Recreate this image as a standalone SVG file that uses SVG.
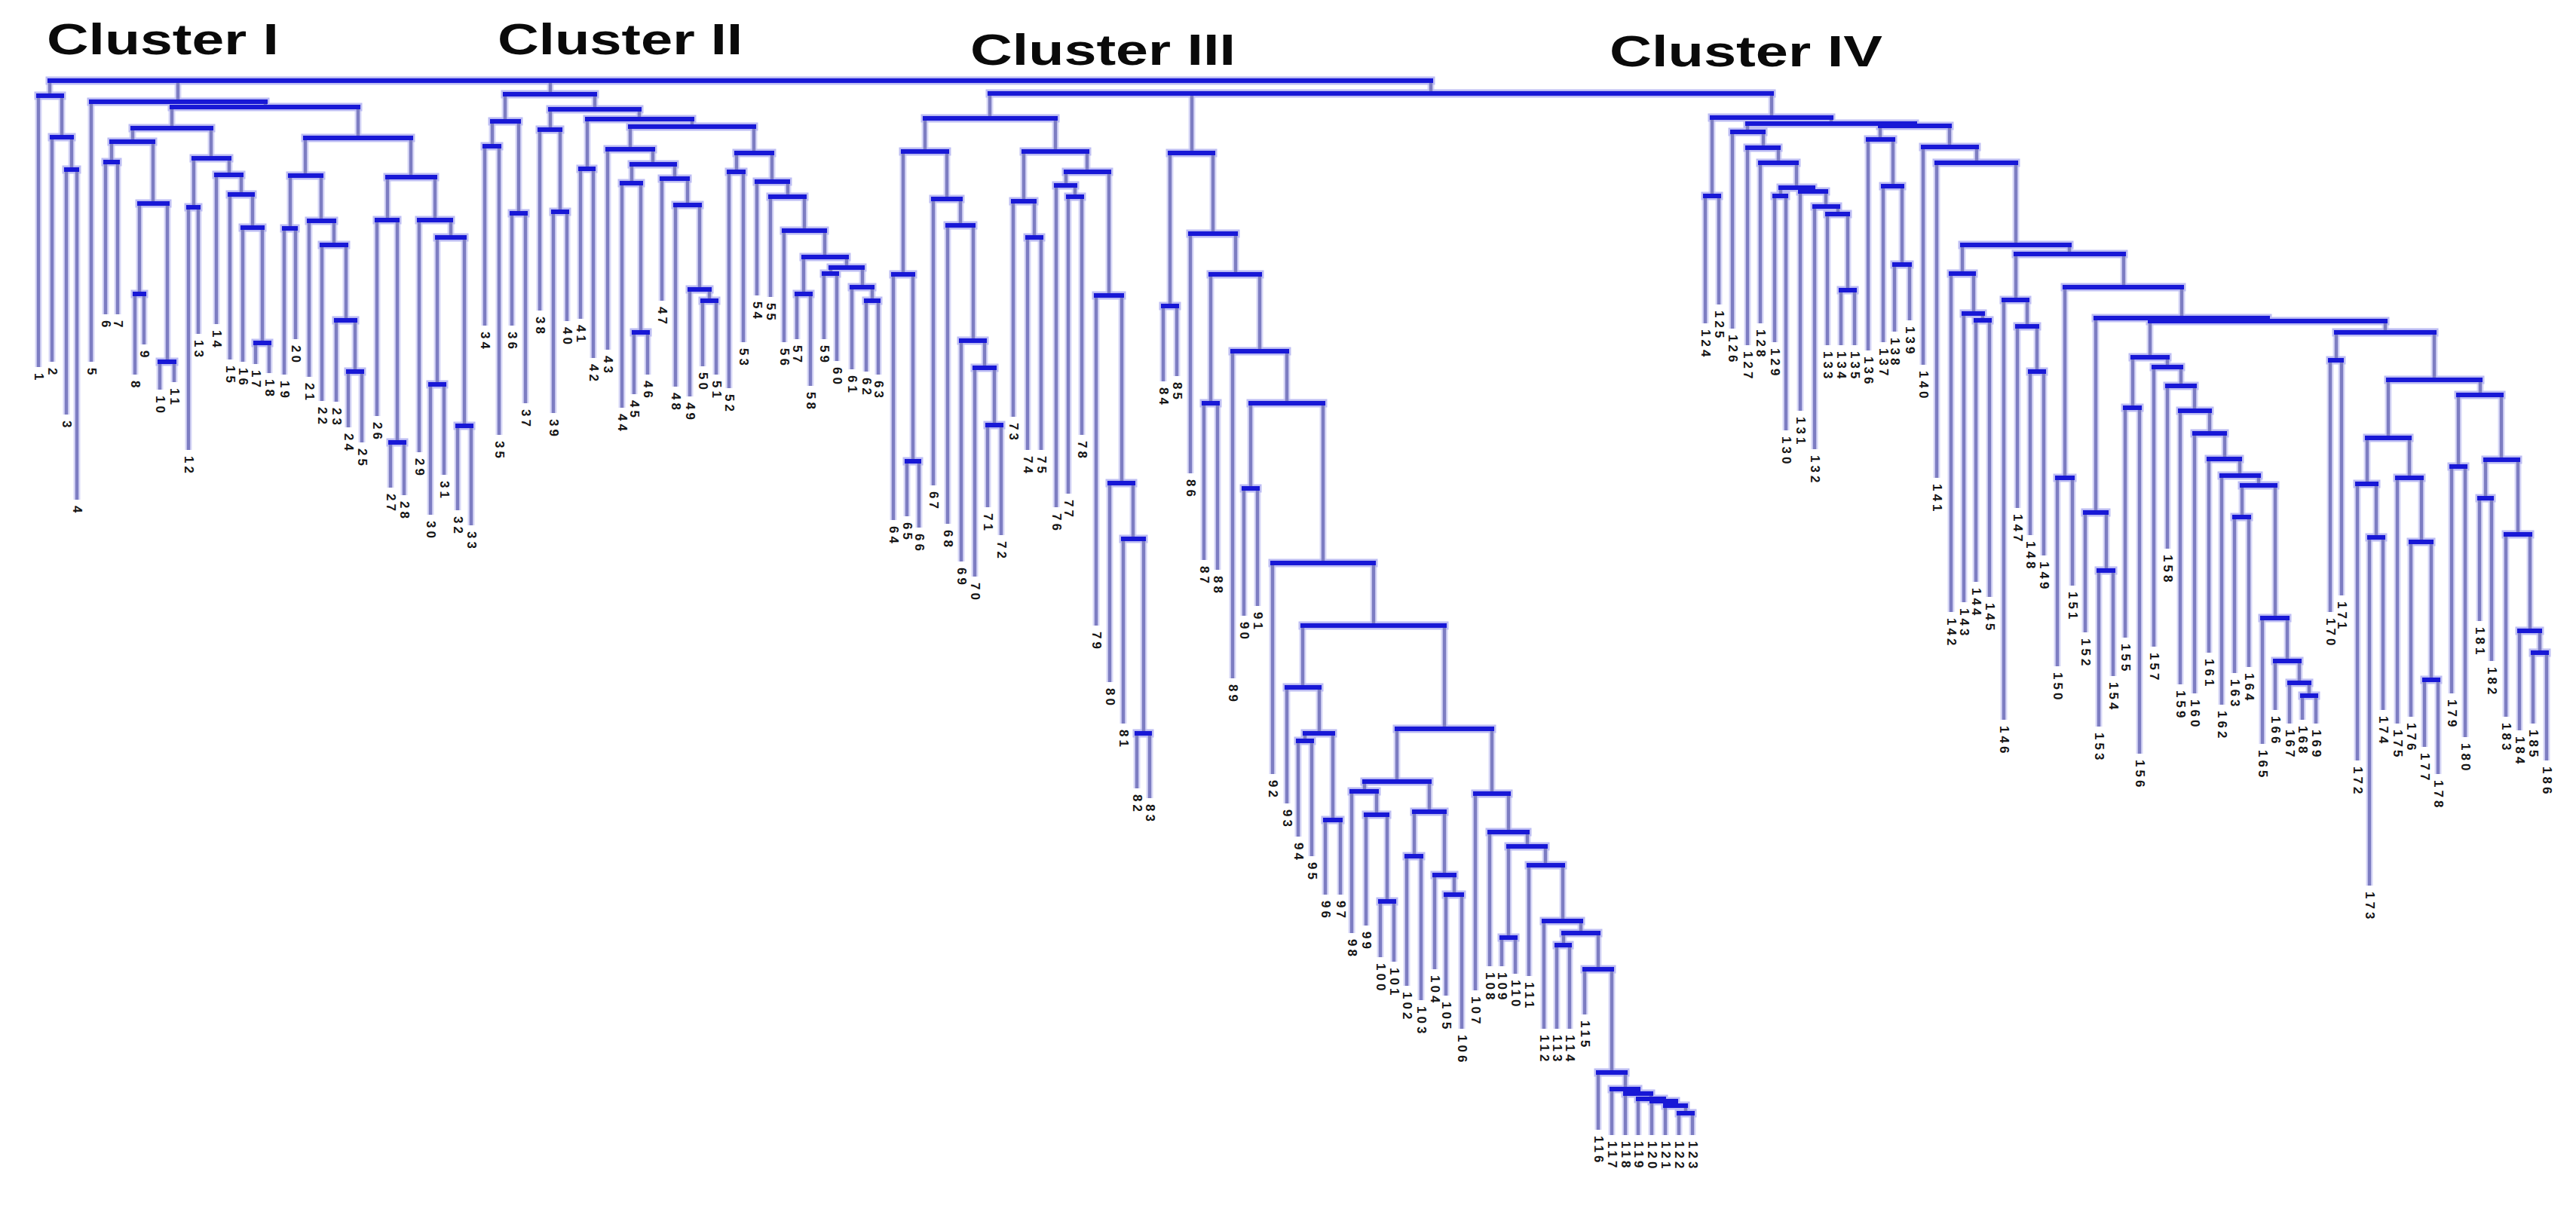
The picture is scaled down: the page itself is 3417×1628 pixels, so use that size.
<svg xmlns="http://www.w3.org/2000/svg" xmlns:xlink="http://www.w3.org/1999/xlink" width="3417" height="1628" viewBox="0 0 3417 1628">
<style>
.vh{fill:none;stroke:#d8d8f7;stroke-width:9}
.vm{fill:none;stroke:#7d7dc2;stroke-width:4.5}
.hh{fill:none;stroke:#bcbcf3;stroke-width:11;stroke-linecap:square}
.hm{fill:none;stroke:#1818d6;stroke-width:6;stroke-linecap:square}
.lb{font-family:"Liberation Sans",Arial,sans-serif;font-size:17px;font-weight:bold;fill:#151515;writing-mode:vertical-rl;letter-spacing:4px}
.ttl{font-family:"Liberation Sans",Arial,sans-serif;font-size:58px;font-weight:bold;fill:#0a0a0a}
</style>
<defs>
<path id="vl" d="M66 107V127M236 107V135M730 107V125M1898 107V124M1313 124V157M1581 124V203M2350 124V156
M51 127V487M82 127V182M69 182V480M95 182V225M88 225V550M102 225V663M121 135V480M352 135V142M228 142V170M475 142V183M176 170V188M280 170V210M148 188V215M203 188V270M140 215V417M156 215V417M185 270V390M222 270V480M179 390V497M191 390V457M212 480V517M231 480V507M257 210V275M304 210V232M250 275V597M263 275V443M287 232V430M320 232V258M305 258V477M335 258V302M322 302V480M348 302V455M339 455V483M357 455V495M405 183V233M545 183V235M385 233V303M426 233V293M377 303V497M392 303V450M410 293V500M443 293V325M427 325V532M459 325V425M446 425V533M471 425V493M462 493V567M480 493V587M514 235V292M577 235V292M500 292V552M527 292V587M518 587V647M536 587V657M556 292V600M598 292V315M580 315V510M616 315V565M571 510V683M589 510V630M607 565V677M625 565V697
M670 125V161M789 125V145M653 161V194M688 161V283M643 194V432M662 194V577M679 283V432M697 283V535M730 145V172M848 145V158M716 172V412M743 172V281M734 281V548M752 281V426M779 158V224M918 158V168M770 224V423M787 224V475M836 168V198M1000 168V203M806 198V464M866 198V218M838 218V243M895 218V237M825 243V541M850 243V441M841 441V523M859 441V497M878 237V399M912 237V272M896 272V513M928 272V384M915 384V526M941 384V399M932 399V486M950 399V497M977 203V228M1024 203V241M967 228V515M986 228V454M1004 241V392M1045 241V261M1022 261V394M1067 261V306M1040 306V454M1094 306V341M1066 341V390M1123 341V355M1057 390V450M1075 390V512M1102 355V363M1144 355V381M1093 363V450M1110 363V479M1130 381V490M1157 381V399M1149 399V493M1165 399V497
M1227 157V201M1400 157V201M1198 201V364M1256 201V264M1185 364V690M1211 364V612M1203 612V685M1219 612V700M1238 264V644M1274 264V299M1257 299V695M1291 299V452M1275 452V745M1306 452V488M1293 488V765M1319 488V564M1310 564V673M1328 564V710M1358 201V267M1442 201V228M1344 267V553M1372 267V315M1363 315V597M1381 315V597M1414 228V246M1471 228V392M1401 246V673M1426 246V261M1417 261V655M1435 261V577M1454 392V830M1488 392V641M1472 641V905M1503 641V715M1490 715V960M1517 715V973M1508 973V1046M1525 973V1059
M1552 203V406M1609 203V310M1543 406V506M1561 406V499M1579 310V628M1639 310V364M1606 364V535M1671 364V466M1597 535V743M1615 535V756M1635 466V900M1707 466V535M1659 535V648M1755 535V747M1650 648V817M1668 648V804M1688 747V1027M1822 747V830M1728 830V912M1916 830V967M1707 912V1066M1750 912V973M1731 973V983M1768 973V1088M1722 983V1110M1740 983V1136M1758 1088V1187M1778 1088V1187M1853 967V1037M1979 967V1053M1810 1037V1050M1896 1037V1077M1793 1050V1238M1826 1050V1081M1812 1081V1228M1840 1081V1196M1831 1196V1270M1849 1196V1276M1876 1077V1136M1916 1077V1161M1866 1136V1308M1885 1136V1327M1903 1161V1286M1929 1161V1187M1918 1187V1321M1939 1187V1365M1957 1053V1314M2001 1053V1104M1976 1104V1282M2026 1104V1123M2001 1123V1244M2050 1123V1148M1992 1244V1282M2010 1244V1292M2028 1148V1295M2073 1148V1222M2048 1222V1365M2097 1222V1238M2074 1238V1254M2120 1238V1286M2065 1254V1365M2082 1254V1365M2102 1286V1346M2138 1286V1423M2120 1423V1499M2156 1423V1445M2138 1445V1506M2173 1445V1451M2156 1451V1506M2190 1451V1458M2173 1458V1506M2207 1458V1461M2191 1461V1506M2223 1461V1467M2209 1467V1506M2236 1467V1477M2227 1477V1506M2245 1477V1506
M2271 156V260M2429 156V164M2262 260V429M2280 260V404M2318 164V175M2540 164V167M2298 175V436M2339 175V196M2318 196V458M2359 196V216M2335 216V429M2383 216V249M2362 249V260M2405 249V254M2354 260V454M2369 260V571M2388 254V545M2422 254V274M2407 274V596M2438 274V284M2424 284V458M2451 284V385M2442 385V458M2460 385V458M2494 167V185M2586 167V195M2478 185V465M2511 185V247M2498 247V454M2523 247V351M2513 351V440M2533 351V425M2551 195V484M2622 195V216M2569 216V634M2674 216V325M2603 325V363M2745 325V337M2588 363V812M2618 363V416M2605 416V799M2630 416V425M2621 425V772M2639 425V792M2674 337V398M2817 337V381M2658 398V955M2689 398V433M2676 433V674M2702 433V493M2693 493V710M2711 493V737M2739 381V634M2894 381V422M2729 634V884M2749 634V777M2780 422V680M3008 422V426M2766 680V839M2794 680V757M2784 757V964M2803 757V897
M2852 426V474M3164 426V441M2829 474V541M2875 474V487M2819 541V846M2838 541V1000M2857 487V858M2893 487V512M2875 512V728M2911 512V545M2892 545V908M2931 545V575M2911 575V920M2951 575V609M2930 609V866M2971 609V631M2947 631V935M2996 631V644M2974 644V686M3018 644V820M2964 686V893M2983 686V885M3001 820V987M3034 820V877M3018 877V942M3050 877V906M3037 906V960M3063 906V923M3054 923V955M3072 923V960
M3099 441V478M3229 441V504M3091 478V812M3106 478V790M3168 504V581M3290 504V524M3140 581V642M3196 581V634M3127 642V1009M3152 642V713M3143 713V1175M3161 713V942M3180 634V960M3212 634V719M3198 719V951M3225 719V902M3216 902V991M3234 902V1027M3261 524V619M3318 524V610M3252 619V920M3270 619V978M3297 610V661M3340 610V709M3289 661V824M3305 661V877M3324 709V951M3356 709V837M3342 837V969M3369 837V866M3360 866V960M3378 866V1009"/>
<path id="hl" d="M66 107H1898M1313 124H2350
M51 127H82M69 182H95M88 225H102M121 135H352M228 142H475M176 170H280M148 188H203M140 215H156M185 270H222M179 390H191M212 480H231M257 210H304M250 275H263M287 232H320M305 258H335M322 302H348M339 455H357M405 183H545M385 233H426M377 303H392M410 293H443M427 325H459M446 425H471M462 493H480M514 235H577M500 292H527M518 587H536M556 292H598M580 315H616M571 510H589M607 565H625
M670 125H789M653 161H688M643 194H662M679 283H697M730 145H848M716 172H743M734 281H752M779 158H918M770 224H787M836 168H1000M806 198H866M838 218H895M825 243H850M841 441H859M878 237H912M896 272H928M915 384H941M932 399H950M977 203H1024M967 228H986M1004 241H1045M1022 261H1067M1040 306H1094M1066 341H1123M1057 390H1075M1102 355H1144M1093 363H1110M1130 381H1157M1149 399H1165
M1227 157H1400M1198 201H1256M1185 364H1211M1203 612H1219M1238 264H1274M1257 299H1291M1275 452H1306M1293 488H1319M1310 564H1328M1358 201H1442M1344 267H1372M1363 315H1381M1414 228H1471M1401 246H1426M1417 261H1435M1454 392H1488M1472 641H1503M1490 715H1517M1508 973H1525
M1552 203H1609M1543 406H1561M1579 310H1639M1606 364H1671M1597 535H1615M1635 466H1707M1659 535H1755M1650 648H1668M1688 747H1822M1728 830H1916M1707 912H1750M1731 973H1768M1722 983H1740M1758 1088H1778M1853 967H1979M1810 1037H1896M1793 1050H1826M1812 1081H1840M1831 1196H1849M1876 1077H1916M1866 1136H1885M1903 1161H1929M1918 1187H1939M1957 1053H2001M1976 1104H2026M2001 1123H2050M1992 1244H2010M2028 1148H2073M2048 1222H2097M2074 1238H2120M2065 1254H2082M2102 1286H2138M2120 1423H2156M2138 1445H2173M2156 1451H2190M2173 1458H2207M2191 1461H2223M2209 1467H2236M2227 1477H2245
M2271 156H2429M2262 260H2280M2318 164H2540M2298 175H2339M2318 196H2359M2335 216H2383M2362 249H2405M2354 260H2369M2388 254H2422M2407 274H2438M2424 284H2451M2442 385H2460M2494 167H2586M2478 185H2511M2498 247H2523M2513 351H2533M2551 195H2622M2569 216H2674M2603 325H2745M2588 363H2618M2605 416H2630M2621 425H2639M2674 337H2817M2658 398H2689M2676 433H2702M2693 493H2711M2739 381H2894M2729 634H2749M2780 422H3008M2766 680H2794M2784 757H2803
M2852 426H3164M2829 474H2875M2819 541H2838M2857 487H2893M2875 512H2911M2892 545H2931M2911 575H2951M2930 609H2971M2947 631H2996M2974 644H3018M2964 686H2983M3001 820H3034M3018 877H3050M3037 906H3063M3054 923H3072
M3099 441H3229M3091 478H3106M3168 504H3290M3140 581H3196M3127 642H3152M3143 713H3161M3180 634H3212M3198 719H3225M3216 902H3234M3261 524H3318M3252 619H3270M3297 610H3340M3289 661H3305M3324 709H3356M3342 837H3369M3360 866H3378"/>
</defs>
<rect width="3417" height="1628" fill="#ffffff"/>
<g id="connectors">
<use href="#vl" class="vh"/>
<use href="#hl" class="hh"/>
<use href="#vl" class="vm"/>
<use href="#hl" class="hm"/>
</g>
<g id="title-cluster-1"><text class="ttl" x="62" y="72" textLength="308" lengthAdjust="spacingAndGlyphs">Cluster I</text></g>
<g id="title-cluster-2"><text class="ttl" x="660" y="72" textLength="325" lengthAdjust="spacingAndGlyphs">Cluster II</text></g>
<g id="title-cluster-3"><text class="ttl" x="1287" y="86" textLength="352" lengthAdjust="spacingAndGlyphs">Cluster III</text></g>
<g id="title-cluster-4"><text class="ttl" x="2135" y="88" textLength="362" lengthAdjust="spacingAndGlyphs">Cluster IV</text></g>
<g id="leaves-cluster-1" class="lb">
<text x="51" y="495">1</text><text x="69" y="488">2</text><text x="88" y="558">3</text><text x="102" y="671">4</text><text x="121" y="488">5</text><text x="140" y="425">6</text><text x="156" y="425">7</text><text x="179" y="505">8</text><text x="191" y="465">9</text><text x="212" y="525">10</text><text x="231" y="515">11</text><text x="250" y="605">12</text><text x="263" y="451">13</text><text x="287" y="438">14</text><text x="305" y="485">15</text><text x="322" y="488">16</text><text x="339" y="491">17</text><text x="357" y="503">18</text><text x="377" y="505">19</text><text x="392" y="458">20</text><text x="410" y="508">21</text><text x="427" y="540">22</text><text x="446" y="541">23</text><text x="462" y="575">24</text><text x="480" y="595">25</text><text x="500" y="560">26</text><text x="518" y="655">27</text><text x="536" y="665">28</text><text x="556" y="608">29</text><text x="571" y="691">30</text><text x="589" y="638">31</text><text x="607" y="685">32</text><text x="625" y="705">33</text>
</g>
<g id="leaves-cluster-2" class="lb">
<text x="643" y="440">34</text><text x="662" y="585">35</text><text x="679" y="440">36</text><text x="697" y="543">37</text><text x="716" y="420">38</text><text x="734" y="556">39</text><text x="752" y="434">40</text><text x="770" y="431">41</text><text x="787" y="483">42</text><text x="806" y="472">43</text><text x="825" y="549">44</text><text x="841" y="531">45</text><text x="859" y="505">46</text><text x="878" y="407">47</text><text x="896" y="521">48</text><text x="915" y="534">49</text><text x="932" y="494">50</text><text x="950" y="505">51</text><text x="967" y="523">52</text><text x="986" y="462">53</text><text x="1004" y="400">54</text><text x="1022" y="402">55</text><text x="1040" y="462">56</text><text x="1057" y="458">57</text><text x="1075" y="520">58</text><text x="1093" y="458">59</text><text x="1110" y="487">60</text><text x="1130" y="498">61</text><text x="1149" y="501">62</text><text x="1165" y="505">63</text>
</g>
<g id="leaves-cluster-3" class="lb">
<text x="1185" y="698">64</text><text x="1203" y="693">65</text><text x="1219" y="708">66</text><text x="1238" y="652">67</text><text x="1257" y="703">68</text><text x="1275" y="753">69</text><text x="1293" y="773">70</text><text x="1310" y="681">71</text><text x="1328" y="718">72</text><text x="1344" y="561">73</text><text x="1363" y="605">74</text><text x="1381" y="605">75</text><text x="1401" y="681">76</text><text x="1417" y="663">77</text><text x="1435" y="585">78</text><text x="1454" y="838">79</text><text x="1472" y="913">80</text><text x="1490" y="968">81</text><text x="1508" y="1054">82</text><text x="1525" y="1067">83</text><text x="1543" y="514">84</text><text x="1561" y="507">85</text><text x="1579" y="636">86</text><text x="1597" y="751">87</text><text x="1615" y="764">88</text><text x="1635" y="908">89</text><text x="1650" y="825">90</text><text x="1668" y="812">91</text><text x="1688" y="1035">92</text><text x="1707" y="1074">93</text><text x="1722" y="1118">94</text><text x="1740" y="1144">95</text><text x="1758" y="1195">96</text><text x="1778" y="1195">97</text><text x="1793" y="1246">98</text><text x="1812" y="1236">99</text><text x="1831" y="1278">100</text><text x="1849" y="1284">101</text><text x="1866" y="1316">102</text><text x="1885" y="1335">103</text><text x="1903" y="1294">104</text><text x="1918" y="1329">105</text><text x="1939" y="1373">106</text><text x="1957" y="1322">107</text><text x="1976" y="1290">108</text><text x="1992" y="1290">109</text><text x="2010" y="1300">110</text><text x="2028" y="1303">111</text><text x="2048" y="1373">112</text><text x="2065" y="1373">113</text><text x="2082" y="1373">114</text><text x="2102" y="1354">115</text><text x="2120" y="1507">116</text><text x="2138" y="1514">117</text><text x="2156" y="1514">118</text><text x="2173" y="1514">119</text><text x="2191" y="1514">120</text><text x="2209" y="1514">121</text><text x="2227" y="1514">122</text><text x="2245" y="1514">123</text>
</g>
<g id="leaves-cluster-4" class="lb">
<text x="2262" y="437">124</text><text x="2280" y="412">125</text><text x="2298" y="444">126</text><text x="2318" y="466">127</text><text x="2335" y="437">128</text><text x="2354" y="462">129</text><text x="2369" y="579">130</text><text x="2388" y="553">131</text><text x="2407" y="604">132</text><text x="2424" y="466">133</text><text x="2442" y="466">134</text><text x="2460" y="466">135</text><text x="2478" y="473">136</text><text x="2498" y="462">137</text><text x="2513" y="448">138</text><text x="2533" y="433">139</text><text x="2551" y="492">140</text><text x="2569" y="642">141</text><text x="2588" y="820">142</text><text x="2605" y="807">143</text><text x="2621" y="780">144</text><text x="2639" y="800">145</text><text x="2658" y="963">146</text><text x="2676" y="682">147</text><text x="2693" y="718">148</text><text x="2711" y="745">149</text><text x="2729" y="892">150</text><text x="2749" y="785">151</text><text x="2766" y="847">152</text><text x="2784" y="972">153</text><text x="2803" y="905">154</text><text x="2819" y="854">155</text><text x="2838" y="1008">156</text><text x="2857" y="866">157</text><text x="2875" y="736">158</text><text x="2892" y="916">159</text><text x="2911" y="928">160</text><text x="2930" y="874">161</text><text x="2947" y="943">162</text><text x="2964" y="901">163</text><text x="2983" y="893">164</text><text x="3001" y="995">165</text><text x="3018" y="950">166</text><text x="3037" y="968">167</text><text x="3054" y="963">168</text><text x="3072" y="968">169</text><text x="3091" y="820">170</text><text x="3106" y="798">171</text><text x="3127" y="1017">172</text><text x="3143" y="1183">173</text><text x="3161" y="950">174</text><text x="3180" y="968">175</text><text x="3198" y="959">176</text><text x="3216" y="999">177</text><text x="3234" y="1035">178</text><text x="3252" y="928">179</text><text x="3270" y="986">180</text><text x="3289" y="832">181</text><text x="3305" y="885">182</text><text x="3324" y="959">183</text><text x="3342" y="977">184</text><text x="3360" y="968">185</text><text x="3378" y="1017">186</text>
</g>
</svg>
